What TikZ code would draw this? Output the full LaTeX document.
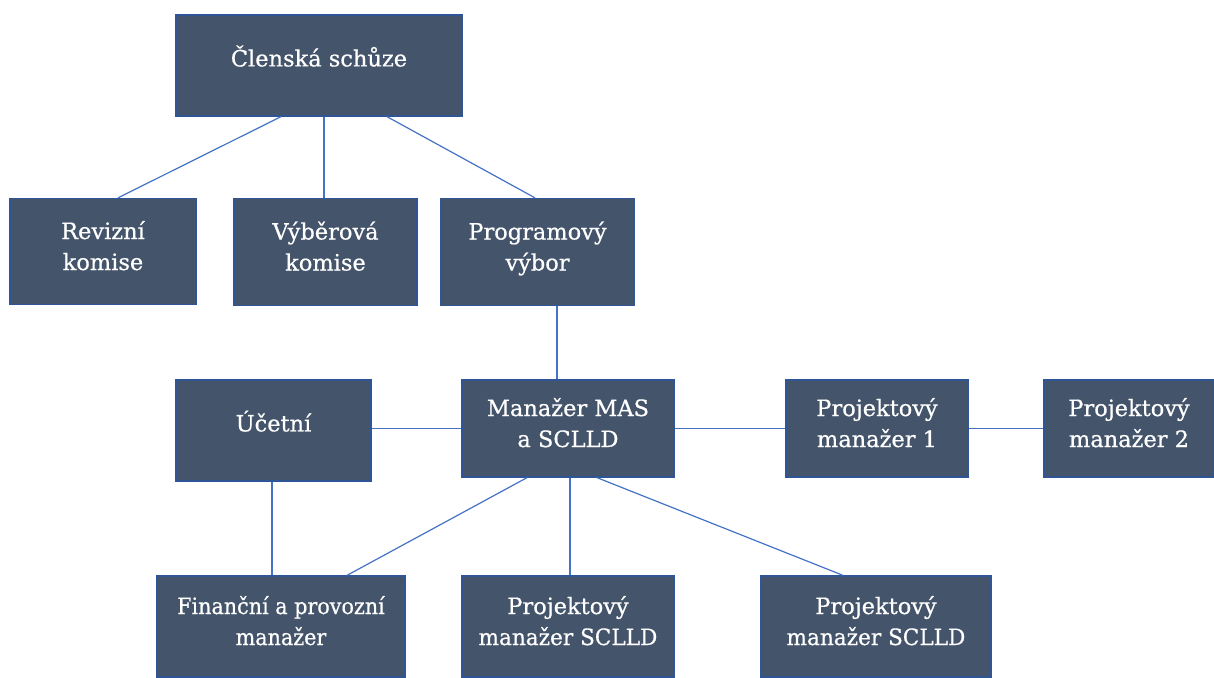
\documentclass[tikz,border=0pt]{standalone}
\usepackage{fontspec}
\setmainfont{DejaVu Serif}
\newfontfamily\boxfont[BoldFont={DejaVu Serif}, BoldFeatures={FakeBold=0.6}]{DejaVu Serif}
\usetikzlibrary{calc}
\definecolor{boxfill}{HTML}{44546A}
\definecolor{boxline}{HTML}{2F5597}
\definecolor{conn}{HTML}{4472C4}
\tikzset{
  orgbox/.style={draw=boxline, line width=1.3pt, fill=boxfill, text=white,
    inner sep=0pt, align=center, text depth=12pt,
    font=\boxfont\bfseries\fontsize{22.5}{31}\selectfont},
  single/.style={text depth=19pt},
  link/.style={draw=conn, line width=1.2pt}
}
\begin{document}
\begin{tikzpicture}[x=1pt,y=-1pt]
\useasboundingbox (0,0) rectangle (1214,677);
\node[orgbox, single, minimum width=286, minimum height=101] (cs) at (319,65.5) {Členská schůze};
\node[orgbox, minimum width=186, minimum height=106] (rev) at (103,251.5) {Revizní\\komise};
\node[orgbox, minimum width=183, minimum height=107] (vyb) at (325.5,252) {Výběrová\\komise};
\node[orgbox, minimum width=193, minimum height=107] (prog) at (537.5,252) {Programový\\výbor};
\node[orgbox, single, minimum width=195, minimum height=101] (uc) at (273.5,430.5) {Účetní};
\node[orgbox, minimum width=212, minimum height=97] (man) at (568,428.5) {Manažer MAS\\a SCLLD};
\node[orgbox, minimum width=182, minimum height=97] (pm1) at (877,428.5) {Projektový\\manažer 1};
\node[orgbox, minimum width=170, minimum height=97] (pm2) at (1129,428.5) {Projektový\\manažer 2};
\node[orgbox, minimum width=248, minimum height=101] (fin) at (281,626.5) {\scalebox{0.92}[1]{Finanční a provozní}\\\scalebox{0.92}[1]{manažer}};
\node[orgbox, minimum width=212, minimum height=101] (pms1) at (568,626.5) {Projektový\\\scalebox{0.96}[1]{manažer SCLLD}};
\node[orgbox, minimum width=230, minimum height=101] (pms2) at (876,626.5) {Projektový\\\scalebox{0.96}[1]{manažer SCLLD}};
\draw[link] ([xshift=-38pt]cs.south) -- ([xshift=15pt]rev.north);
\draw[link] ([xshift=5pt]cs.south) -- ([xshift=-1.5pt]vyb.north);
\draw[link] ([xshift=68pt]cs.south) -- ([xshift=-2.5pt]prog.north);
\draw[link] ([xshift=19.5pt]prog.south) -- ([xshift=-11pt]man.north);
\draw[link] (man.west) -- (man.west -| uc.east);
\draw[link] (man.east) -- (pm1.west);
\draw[link] (pm1.east) -- (pm2.west);
\draw[link] ([xshift=-1.5pt]uc.south) -- ([xshift=-9pt]fin.north);
\draw[link] ([xshift=-41pt]man.south) -- ([xshift=66pt]fin.north);
\draw[link] ([xshift=2pt]man.south) -- ([xshift=2pt]pms1.north);
\draw[link] ([xshift=29pt]man.south) -- ([xshift=-33pt]pms2.north);
\end{tikzpicture}
\end{document}
